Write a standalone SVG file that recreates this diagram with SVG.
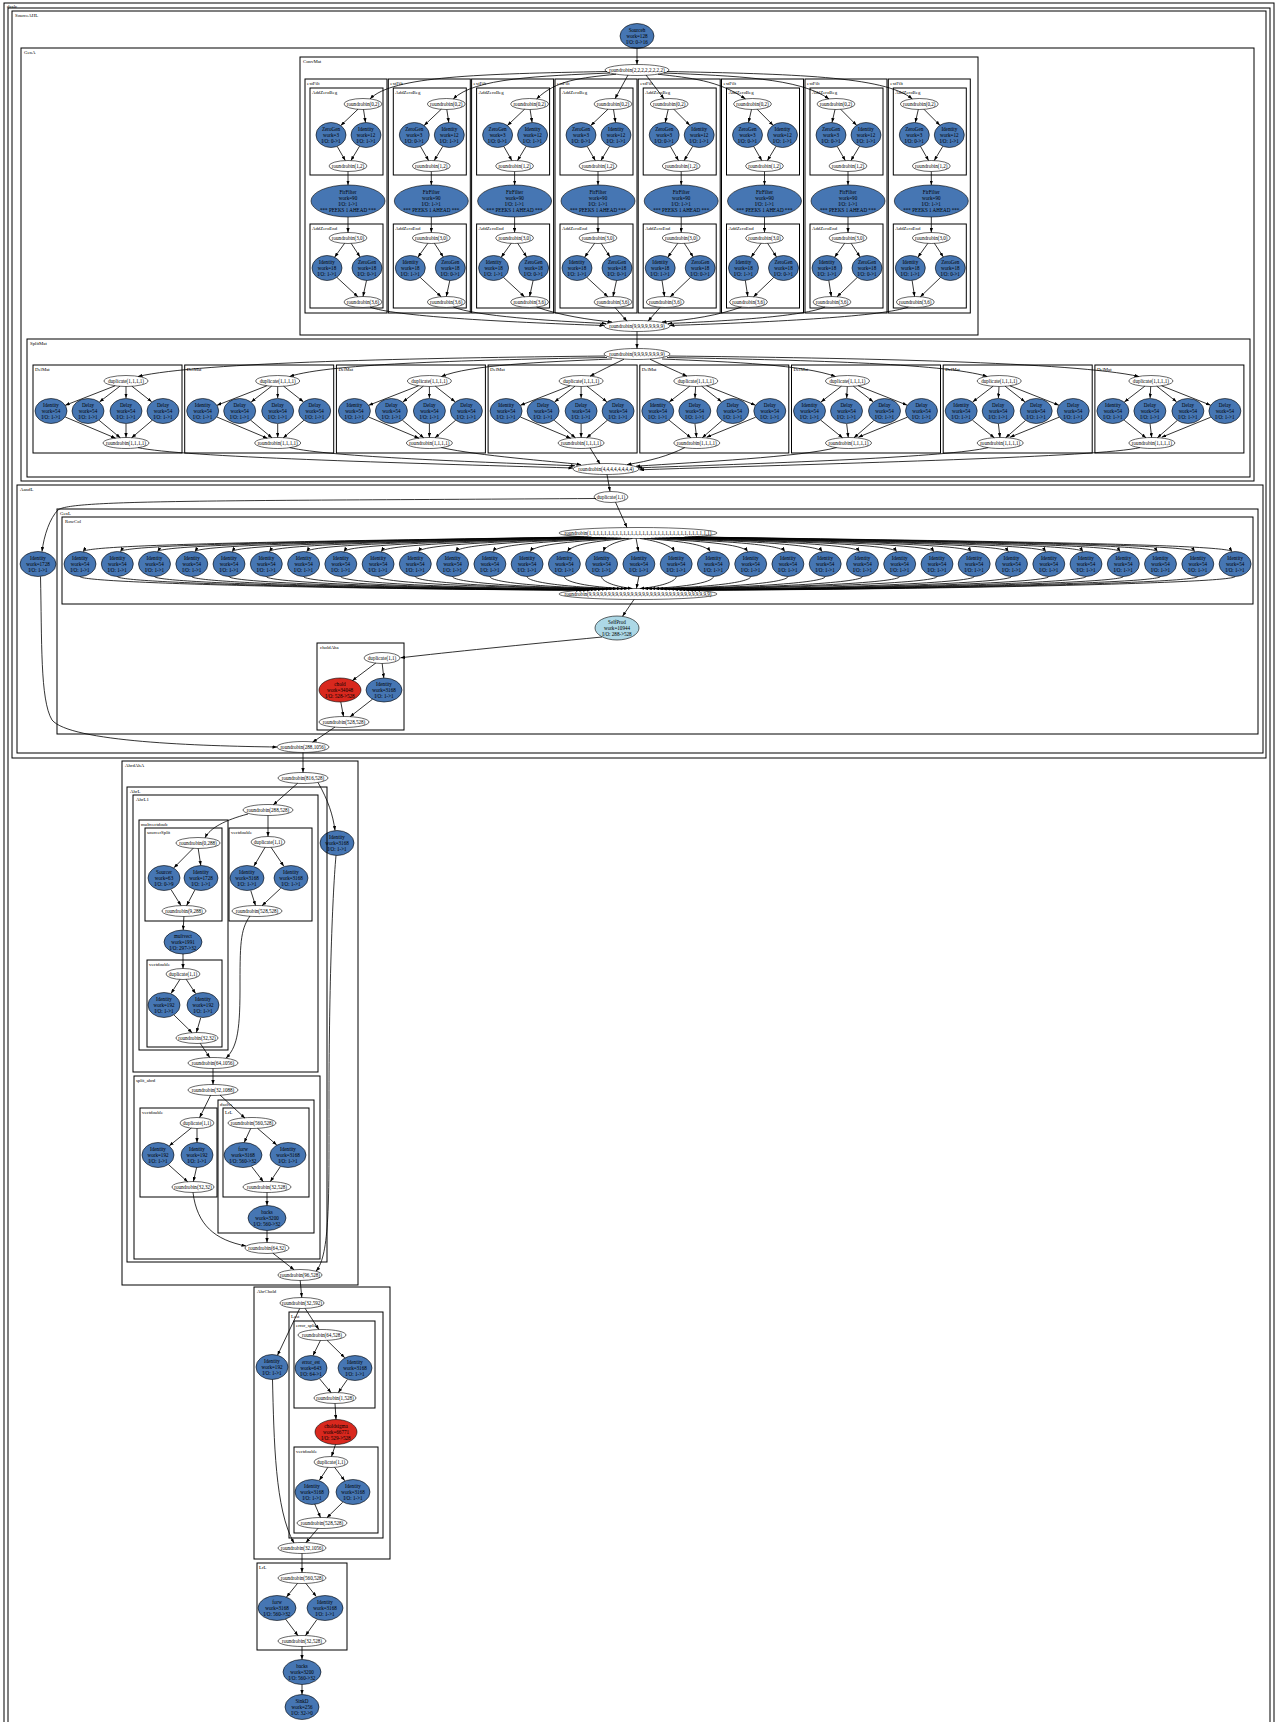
<svg xmlns="http://www.w3.org/2000/svg" width="1275" height="1722" viewBox="0 0 1275 1722">
<style>
.c{fill:none;stroke:#000;stroke-width:1}
.l{font-family:"Liberation Serif",serif;font-size:4.8px;fill:#000}
.t{font-family:"Liberation Serif",serif;font-size:5.1px;fill:#000;text-anchor:middle}
.b{fill:#4676b3;stroke:#000;stroke-width:0.6}
.w{fill:#fff;stroke:#000;stroke-width:0.6}
.r{fill:#d9281e;stroke:#000;stroke-width:0.6}
.p{fill:#add8e6;stroke:#000;stroke-width:0.6}
#E path{fill:none;stroke:#000;stroke-width:0.8;marker-end:url(#a)}
</style>
<defs>
<marker id="a" viewBox="0 0 8 6" refX="8" refY="3" markerWidth="4.5" markerHeight="3.4" orient="auto" markerUnits="userSpaceOnUse"><path d="M0,0L8,3L0,6z" fill="#000"/></marker>
</defs>
<rect width="1275" height="1722" fill="#fff"/>
<g id="dcalc"><rect class="c" x="4" y="3" width="1270" height="1730"/><text class="l" x="7" y="7.5">dcalc</text>
<rect class="c" x="8" y="8" width="1262" height="1720"/>
<g id="SourceAHL"><rect class="c" x="12" y="11" width="1254" height="747"/><text class="l" x="15" y="17">SourceAHL</text>
<g id="sourceh"><ellipse class="b" cx="637" cy="36" rx="17" ry="12.5"/><text class="t" x="637" y="31.6">Sourceh<tspan x="637" dy="6.2">work=128</tspan><tspan x="637" dy="6.2">I/O: 0-&gt;16</tspan></text></g>
<g id="GenA"><rect class="c" x="21" y="48" width="1233" height="433"/><text class="l" x="24" y="54">GenA</text>
<g id="ConvMat"><rect class="c" x="300" y="57" width="678" height="278"/><text class="l" x="303" y="63">ConvMat</text>
<g id="cm_split"><ellipse class="w" cx="637" cy="70" rx="32" ry="5.5"/><text class="t" x="637" y="71.8">roundrobin(2,2,2,2,2,2,2,2)</text></g>
<g id="cm_join"><ellipse class="w" cx="637" cy="326" rx="33" ry="5.5"/><text class="t" x="637" y="327.8">roundrobin(9,9,9,9,9,9,9,9)</text></g>
<g id="ef0" transform="translate(305,0)"><rect class="c" x="0" y="79" width="82" height="234"/><text class="l" x="2" y="85">extFilt</text><rect class="c" x="5" y="88" width="73" height="87"/><text class="l" x="7" y="94">AddZeroBeg</text><rect class="c" x="5" y="224" width="73" height="84"/><text class="l" x="7" y="230">AddZeroEnd</text>
<g id="ef0_rrA"><ellipse class="w" cx="58" cy="104" rx="19" ry="5.5"/><text class="t" x="58" y="105.8">roundrobin(0,2)</text></g>
<g id="ef0_zg3"><ellipse class="b" cx="26" cy="135" rx="15" ry="12.5"/><text class="t" x="26" y="130.6">ZeroGen<tspan x="26" dy="6.2">work=3</tspan><tspan x="26" dy="6.2">I/O: 0-&gt;1</tspan></text></g>
<g id="ef0_id12"><ellipse class="b" cx="61" cy="135" rx="15" ry="12.5"/><text class="t" x="61" y="130.6">Identity<tspan x="61" dy="6.2">work=12</tspan><tspan x="61" dy="6.2">I/O: 1-&gt;1</tspan></text></g>
<g id="ef0_rrB"><ellipse class="w" cx="43" cy="166" rx="19" ry="5.5"/><text class="t" x="43" y="167.8">roundrobin(1,2)</text></g>
<g id="ef0_fir"><ellipse class="b" cx="43" cy="201" rx="37" ry="16"/><text class="t" x="43" y="193.5">FirFilter<tspan x="43" dy="6.2">work=90</tspan><tspan x="43" dy="6.2">I/O: 1-&gt;1</tspan><tspan x="43" dy="6.2">*** PEEKS 1 AHEAD ***</tspan></text></g>
<g id="ef0_rrC"><ellipse class="w" cx="43" cy="238" rx="19" ry="5.5"/><text class="t" x="43" y="239.8">roundrobin(3,0)</text></g>
<g id="ef0_id18"><ellipse class="b" cx="22" cy="268" rx="15" ry="12.5"/><text class="t" x="22" y="263.6">Identity<tspan x="22" dy="6.2">work=18</tspan><tspan x="22" dy="6.2">I/O: 1-&gt;1</tspan></text></g>
<g id="ef0_zg18"><ellipse class="b" cx="62" cy="268" rx="15" ry="12.5"/><text class="t" x="62" y="263.6">ZeroGen<tspan x="62" dy="6.2">work=18</tspan><tspan x="62" dy="6.2">I/O: 0-&gt;1</tspan></text></g>
<g id="ef0_rrD"><ellipse class="w" cx="58" cy="302" rx="19" ry="5.5"/><text class="t" x="58" y="303.8">roundrobin(3,6)</text></g>
</g>
<g id="ef1" transform="translate(388.3,0)"><rect class="c" x="0" y="79" width="82" height="234"/><text class="l" x="2" y="85">extFilt</text><rect class="c" x="5" y="88" width="73" height="87"/><text class="l" x="7" y="94">AddZeroBeg</text><rect class="c" x="5" y="224" width="73" height="84"/><text class="l" x="7" y="230">AddZeroEnd</text>
<g id="ef1_rrA"><ellipse class="w" cx="58" cy="104" rx="19" ry="5.5"/><text class="t" x="58" y="105.8">roundrobin(0,2)</text></g>
<g id="ef1_zg3"><ellipse class="b" cx="26" cy="135" rx="15" ry="12.5"/><text class="t" x="26" y="130.6">ZeroGen<tspan x="26" dy="6.2">work=3</tspan><tspan x="26" dy="6.2">I/O: 0-&gt;1</tspan></text></g>
<g id="ef1_id12"><ellipse class="b" cx="61" cy="135" rx="15" ry="12.5"/><text class="t" x="61" y="130.6">Identity<tspan x="61" dy="6.2">work=12</tspan><tspan x="61" dy="6.2">I/O: 1-&gt;1</tspan></text></g>
<g id="ef1_rrB"><ellipse class="w" cx="43" cy="166" rx="19" ry="5.5"/><text class="t" x="43" y="167.8">roundrobin(1,2)</text></g>
<g id="ef1_fir"><ellipse class="b" cx="43" cy="201" rx="37" ry="16"/><text class="t" x="43" y="193.5">FirFilter<tspan x="43" dy="6.2">work=90</tspan><tspan x="43" dy="6.2">I/O: 1-&gt;1</tspan><tspan x="43" dy="6.2">*** PEEKS 1 AHEAD ***</tspan></text></g>
<g id="ef1_rrC"><ellipse class="w" cx="43" cy="238" rx="19" ry="5.5"/><text class="t" x="43" y="239.8">roundrobin(3,0)</text></g>
<g id="ef1_id18"><ellipse class="b" cx="22" cy="268" rx="15" ry="12.5"/><text class="t" x="22" y="263.6">Identity<tspan x="22" dy="6.2">work=18</tspan><tspan x="22" dy="6.2">I/O: 1-&gt;1</tspan></text></g>
<g id="ef1_zg18"><ellipse class="b" cx="62" cy="268" rx="15" ry="12.5"/><text class="t" x="62" y="263.6">ZeroGen<tspan x="62" dy="6.2">work=18</tspan><tspan x="62" dy="6.2">I/O: 0-&gt;1</tspan></text></g>
<g id="ef1_rrD"><ellipse class="w" cx="58" cy="302" rx="19" ry="5.5"/><text class="t" x="58" y="303.8">roundrobin(3,6)</text></g>
</g>
<g id="ef2" transform="translate(471.6,0)"><rect class="c" x="0" y="79" width="82" height="234"/><text class="l" x="2" y="85">extFilt</text><rect class="c" x="5" y="88" width="73" height="87"/><text class="l" x="7" y="94">AddZeroBeg</text><rect class="c" x="5" y="224" width="73" height="84"/><text class="l" x="7" y="230">AddZeroEnd</text>
<g id="ef2_rrA"><ellipse class="w" cx="58" cy="104" rx="19" ry="5.5"/><text class="t" x="58" y="105.8">roundrobin(0,2)</text></g>
<g id="ef2_zg3"><ellipse class="b" cx="26" cy="135" rx="15" ry="12.5"/><text class="t" x="26" y="130.6">ZeroGen<tspan x="26" dy="6.2">work=3</tspan><tspan x="26" dy="6.2">I/O: 0-&gt;1</tspan></text></g>
<g id="ef2_id12"><ellipse class="b" cx="61" cy="135" rx="15" ry="12.5"/><text class="t" x="61" y="130.6">Identity<tspan x="61" dy="6.2">work=12</tspan><tspan x="61" dy="6.2">I/O: 1-&gt;1</tspan></text></g>
<g id="ef2_rrB"><ellipse class="w" cx="43" cy="166" rx="19" ry="5.5"/><text class="t" x="43" y="167.8">roundrobin(1,2)</text></g>
<g id="ef2_fir"><ellipse class="b" cx="43" cy="201" rx="37" ry="16"/><text class="t" x="43" y="193.5">FirFilter<tspan x="43" dy="6.2">work=90</tspan><tspan x="43" dy="6.2">I/O: 1-&gt;1</tspan><tspan x="43" dy="6.2">*** PEEKS 1 AHEAD ***</tspan></text></g>
<g id="ef2_rrC"><ellipse class="w" cx="43" cy="238" rx="19" ry="5.5"/><text class="t" x="43" y="239.8">roundrobin(3,0)</text></g>
<g id="ef2_id18"><ellipse class="b" cx="22" cy="268" rx="15" ry="12.5"/><text class="t" x="22" y="263.6">Identity<tspan x="22" dy="6.2">work=18</tspan><tspan x="22" dy="6.2">I/O: 1-&gt;1</tspan></text></g>
<g id="ef2_zg18"><ellipse class="b" cx="62" cy="268" rx="15" ry="12.5"/><text class="t" x="62" y="263.6">ZeroGen<tspan x="62" dy="6.2">work=18</tspan><tspan x="62" dy="6.2">I/O: 0-&gt;1</tspan></text></g>
<g id="ef2_rrD"><ellipse class="w" cx="58" cy="302" rx="19" ry="5.5"/><text class="t" x="58" y="303.8">roundrobin(3,6)</text></g>
</g>
<g id="ef3" transform="translate(555,0)"><rect class="c" x="0" y="79" width="82" height="234"/><text class="l" x="2" y="85">extFilt</text><rect class="c" x="5" y="88" width="73" height="87"/><text class="l" x="7" y="94">AddZeroBeg</text><rect class="c" x="5" y="224" width="73" height="84"/><text class="l" x="7" y="230">AddZeroEnd</text>
<g id="ef3_rrA"><ellipse class="w" cx="58" cy="104" rx="19" ry="5.5"/><text class="t" x="58" y="105.8">roundrobin(0,2)</text></g>
<g id="ef3_zg3"><ellipse class="b" cx="26" cy="135" rx="15" ry="12.5"/><text class="t" x="26" y="130.6">ZeroGen<tspan x="26" dy="6.2">work=3</tspan><tspan x="26" dy="6.2">I/O: 0-&gt;1</tspan></text></g>
<g id="ef3_id12"><ellipse class="b" cx="61" cy="135" rx="15" ry="12.5"/><text class="t" x="61" y="130.6">Identity<tspan x="61" dy="6.2">work=12</tspan><tspan x="61" dy="6.2">I/O: 1-&gt;1</tspan></text></g>
<g id="ef3_rrB"><ellipse class="w" cx="43" cy="166" rx="19" ry="5.5"/><text class="t" x="43" y="167.8">roundrobin(1,2)</text></g>
<g id="ef3_fir"><ellipse class="b" cx="43" cy="201" rx="37" ry="16"/><text class="t" x="43" y="193.5">FirFilter<tspan x="43" dy="6.2">work=90</tspan><tspan x="43" dy="6.2">I/O: 1-&gt;1</tspan><tspan x="43" dy="6.2">*** PEEKS 1 AHEAD ***</tspan></text></g>
<g id="ef3_rrC"><ellipse class="w" cx="43" cy="238" rx="19" ry="5.5"/><text class="t" x="43" y="239.8">roundrobin(3,0)</text></g>
<g id="ef3_id18"><ellipse class="b" cx="22" cy="268" rx="15" ry="12.5"/><text class="t" x="22" y="263.6">Identity<tspan x="22" dy="6.2">work=18</tspan><tspan x="22" dy="6.2">I/O: 1-&gt;1</tspan></text></g>
<g id="ef3_zg18"><ellipse class="b" cx="62" cy="268" rx="15" ry="12.5"/><text class="t" x="62" y="263.6">ZeroGen<tspan x="62" dy="6.2">work=18</tspan><tspan x="62" dy="6.2">I/O: 0-&gt;1</tspan></text></g>
<g id="ef3_rrD"><ellipse class="w" cx="58" cy="302" rx="19" ry="5.5"/><text class="t" x="58" y="303.8">roundrobin(3,6)</text></g>
</g>
<g id="ef4" transform="translate(638.2,0)"><rect class="c" x="0" y="79" width="82" height="234"/><text class="l" x="2" y="85">extFilt</text><rect class="c" x="5" y="88" width="73" height="87"/><text class="l" x="7" y="94">AddZeroBeg</text><rect class="c" x="5" y="224" width="73" height="84"/><text class="l" x="7" y="230">AddZeroEnd</text>
<g id="ef4_rrA"><ellipse class="w" cx="31" cy="104" rx="19" ry="5.5"/><text class="t" x="31" y="105.8">roundrobin(0,2)</text></g>
<g id="ef4_zg3"><ellipse class="b" cx="26" cy="135" rx="15" ry="12.5"/><text class="t" x="26" y="130.6">ZeroGen<tspan x="26" dy="6.2">work=3</tspan><tspan x="26" dy="6.2">I/O: 0-&gt;1</tspan></text></g>
<g id="ef4_id12"><ellipse class="b" cx="61" cy="135" rx="15" ry="12.5"/><text class="t" x="61" y="130.6">Identity<tspan x="61" dy="6.2">work=12</tspan><tspan x="61" dy="6.2">I/O: 1-&gt;1</tspan></text></g>
<g id="ef4_rrB"><ellipse class="w" cx="43" cy="166" rx="19" ry="5.5"/><text class="t" x="43" y="167.8">roundrobin(1,2)</text></g>
<g id="ef4_fir"><ellipse class="b" cx="43" cy="201" rx="37" ry="16"/><text class="t" x="43" y="193.5">FirFilter<tspan x="43" dy="6.2">work=90</tspan><tspan x="43" dy="6.2">I/O: 1-&gt;1</tspan><tspan x="43" dy="6.2">*** PEEKS 1 AHEAD ***</tspan></text></g>
<g id="ef4_rrC"><ellipse class="w" cx="43" cy="238" rx="19" ry="5.5"/><text class="t" x="43" y="239.8">roundrobin(3,0)</text></g>
<g id="ef4_id18"><ellipse class="b" cx="22" cy="268" rx="15" ry="12.5"/><text class="t" x="22" y="263.6">Identity<tspan x="22" dy="6.2">work=18</tspan><tspan x="22" dy="6.2">I/O: 1-&gt;1</tspan></text></g>
<g id="ef4_zg18"><ellipse class="b" cx="62" cy="268" rx="15" ry="12.5"/><text class="t" x="62" y="263.6">ZeroGen<tspan x="62" dy="6.2">work=18</tspan><tspan x="62" dy="6.2">I/O: 0-&gt;1</tspan></text></g>
<g id="ef4_rrD"><ellipse class="w" cx="27" cy="302" rx="19" ry="5.5"/><text class="t" x="27" y="303.8">roundrobin(3,6)</text></g>
</g>
<g id="ef5" transform="translate(721.5,0)"><rect class="c" x="0" y="79" width="82" height="234"/><text class="l" x="2" y="85">extFilt</text><rect class="c" x="5" y="88" width="73" height="87"/><text class="l" x="7" y="94">AddZeroBeg</text><rect class="c" x="5" y="224" width="73" height="84"/><text class="l" x="7" y="230">AddZeroEnd</text>
<g id="ef5_rrA"><ellipse class="w" cx="31" cy="104" rx="19" ry="5.5"/><text class="t" x="31" y="105.8">roundrobin(0,2)</text></g>
<g id="ef5_zg3"><ellipse class="b" cx="26" cy="135" rx="15" ry="12.5"/><text class="t" x="26" y="130.6">ZeroGen<tspan x="26" dy="6.2">work=3</tspan><tspan x="26" dy="6.2">I/O: 0-&gt;1</tspan></text></g>
<g id="ef5_id12"><ellipse class="b" cx="61" cy="135" rx="15" ry="12.5"/><text class="t" x="61" y="130.6">Identity<tspan x="61" dy="6.2">work=12</tspan><tspan x="61" dy="6.2">I/O: 1-&gt;1</tspan></text></g>
<g id="ef5_rrB"><ellipse class="w" cx="43" cy="166" rx="19" ry="5.5"/><text class="t" x="43" y="167.8">roundrobin(1,2)</text></g>
<g id="ef5_fir"><ellipse class="b" cx="43" cy="201" rx="37" ry="16"/><text class="t" x="43" y="193.5">FirFilter<tspan x="43" dy="6.2">work=90</tspan><tspan x="43" dy="6.2">I/O: 1-&gt;1</tspan><tspan x="43" dy="6.2">*** PEEKS 1 AHEAD ***</tspan></text></g>
<g id="ef5_rrC"><ellipse class="w" cx="43" cy="238" rx="19" ry="5.5"/><text class="t" x="43" y="239.8">roundrobin(3,0)</text></g>
<g id="ef5_id18"><ellipse class="b" cx="22" cy="268" rx="15" ry="12.5"/><text class="t" x="22" y="263.6">Identity<tspan x="22" dy="6.2">work=18</tspan><tspan x="22" dy="6.2">I/O: 1-&gt;1</tspan></text></g>
<g id="ef5_zg18"><ellipse class="b" cx="62" cy="268" rx="15" ry="12.5"/><text class="t" x="62" y="263.6">ZeroGen<tspan x="62" dy="6.2">work=18</tspan><tspan x="62" dy="6.2">I/O: 0-&gt;1</tspan></text></g>
<g id="ef5_rrD"><ellipse class="w" cx="27" cy="302" rx="19" ry="5.5"/><text class="t" x="27" y="303.8">roundrobin(3,6)</text></g>
</g>
<g id="ef6" transform="translate(805,0)"><rect class="c" x="0" y="79" width="82" height="234"/><text class="l" x="2" y="85">extFilt</text><rect class="c" x="5" y="88" width="73" height="87"/><text class="l" x="7" y="94">AddZeroBeg</text><rect class="c" x="5" y="224" width="73" height="84"/><text class="l" x="7" y="230">AddZeroEnd</text>
<g id="ef6_rrA"><ellipse class="w" cx="31" cy="104" rx="19" ry="5.5"/><text class="t" x="31" y="105.8">roundrobin(0,2)</text></g>
<g id="ef6_zg3"><ellipse class="b" cx="26" cy="135" rx="15" ry="12.5"/><text class="t" x="26" y="130.6">ZeroGen<tspan x="26" dy="6.2">work=3</tspan><tspan x="26" dy="6.2">I/O: 0-&gt;1</tspan></text></g>
<g id="ef6_id12"><ellipse class="b" cx="61" cy="135" rx="15" ry="12.5"/><text class="t" x="61" y="130.6">Identity<tspan x="61" dy="6.2">work=12</tspan><tspan x="61" dy="6.2">I/O: 1-&gt;1</tspan></text></g>
<g id="ef6_rrB"><ellipse class="w" cx="43" cy="166" rx="19" ry="5.5"/><text class="t" x="43" y="167.8">roundrobin(1,2)</text></g>
<g id="ef6_fir"><ellipse class="b" cx="43" cy="201" rx="37" ry="16"/><text class="t" x="43" y="193.5">FirFilter<tspan x="43" dy="6.2">work=90</tspan><tspan x="43" dy="6.2">I/O: 1-&gt;1</tspan><tspan x="43" dy="6.2">*** PEEKS 1 AHEAD ***</tspan></text></g>
<g id="ef6_rrC"><ellipse class="w" cx="43" cy="238" rx="19" ry="5.5"/><text class="t" x="43" y="239.8">roundrobin(3,0)</text></g>
<g id="ef6_id18"><ellipse class="b" cx="22" cy="268" rx="15" ry="12.5"/><text class="t" x="22" y="263.6">Identity<tspan x="22" dy="6.2">work=18</tspan><tspan x="22" dy="6.2">I/O: 1-&gt;1</tspan></text></g>
<g id="ef6_zg18"><ellipse class="b" cx="62" cy="268" rx="15" ry="12.5"/><text class="t" x="62" y="263.6">ZeroGen<tspan x="62" dy="6.2">work=18</tspan><tspan x="62" dy="6.2">I/O: 0-&gt;1</tspan></text></g>
<g id="ef6_rrD"><ellipse class="w" cx="27" cy="302" rx="19" ry="5.5"/><text class="t" x="27" y="303.8">roundrobin(3,6)</text></g>
</g>
<g id="ef7" transform="translate(888.3,0)"><rect class="c" x="0" y="79" width="82" height="234"/><text class="l" x="2" y="85">extFilt</text><rect class="c" x="5" y="88" width="73" height="87"/><text class="l" x="7" y="94">AddZeroBeg</text><rect class="c" x="5" y="224" width="73" height="84"/><text class="l" x="7" y="230">AddZeroEnd</text>
<g id="ef7_rrA"><ellipse class="w" cx="31" cy="104" rx="19" ry="5.5"/><text class="t" x="31" y="105.8">roundrobin(0,2)</text></g>
<g id="ef7_zg3"><ellipse class="b" cx="26" cy="135" rx="15" ry="12.5"/><text class="t" x="26" y="130.6">ZeroGen<tspan x="26" dy="6.2">work=3</tspan><tspan x="26" dy="6.2">I/O: 0-&gt;1</tspan></text></g>
<g id="ef7_id12"><ellipse class="b" cx="61" cy="135" rx="15" ry="12.5"/><text class="t" x="61" y="130.6">Identity<tspan x="61" dy="6.2">work=12</tspan><tspan x="61" dy="6.2">I/O: 1-&gt;1</tspan></text></g>
<g id="ef7_rrB"><ellipse class="w" cx="43" cy="166" rx="19" ry="5.5"/><text class="t" x="43" y="167.8">roundrobin(1,2)</text></g>
<g id="ef7_fir"><ellipse class="b" cx="43" cy="201" rx="37" ry="16"/><text class="t" x="43" y="193.5">FirFilter<tspan x="43" dy="6.2">work=90</tspan><tspan x="43" dy="6.2">I/O: 1-&gt;1</tspan><tspan x="43" dy="6.2">*** PEEKS 1 AHEAD ***</tspan></text></g>
<g id="ef7_rrC"><ellipse class="w" cx="43" cy="238" rx="19" ry="5.5"/><text class="t" x="43" y="239.8">roundrobin(3,0)</text></g>
<g id="ef7_id18"><ellipse class="b" cx="22" cy="268" rx="15" ry="12.5"/><text class="t" x="22" y="263.6">Identity<tspan x="22" dy="6.2">work=18</tspan><tspan x="22" dy="6.2">I/O: 1-&gt;1</tspan></text></g>
<g id="ef7_zg18"><ellipse class="b" cx="62" cy="268" rx="15" ry="12.5"/><text class="t" x="62" y="263.6">ZeroGen<tspan x="62" dy="6.2">work=18</tspan><tspan x="62" dy="6.2">I/O: 0-&gt;1</tspan></text></g>
<g id="ef7_rrD"><ellipse class="w" cx="27" cy="302" rx="19" ry="5.5"/><text class="t" x="27" y="303.8">roundrobin(3,6)</text></g>
</g>
</g>
<g id="SplitMat"><rect class="c" x="27" y="339" width="1223" height="138"/><text class="l" x="30" y="345">SplitMat</text>
<g id="sm_split"><ellipse class="w" cx="637" cy="354" rx="33" ry="5.5"/><text class="t" x="637" y="355.8">roundrobin(9,9,9,9,9,9,9,9)</text></g>
<g id="sm_join"><ellipse class="w" cx="606" cy="469" rx="33" ry="5.5"/><text class="t" x="606" y="470.8">roundrobin(4,4,4,4,4,4,4,4)</text></g>
<g id="dm0" transform="translate(33,0)"><rect class="c" x="0" y="365" width="149" height="88"/><text class="l" x="2" y="371">DelMat</text>
<g id="dm0_dup"><ellipse class="w" cx="93" cy="381" rx="22" ry="5.5"/><text class="t" x="93" y="382.8">duplicate(1,1,1,1)</text></g>
<g id="dm0_id"><ellipse class="b" cx="18" cy="411" rx="16" ry="12.5"/><text class="t" x="18" y="406.6">Identity<tspan x="18" dy="6.2">work=54</tspan><tspan x="18" dy="6.2">I/O: 1-&gt;1</tspan></text></g>
<g id="dm0_d1"><ellipse class="b" cx="55" cy="411" rx="16" ry="12.5"/><text class="t" x="55" y="406.6">Delay<tspan x="55" dy="6.2">work=54</tspan><tspan x="55" dy="6.2">I/O: 1-&gt;1</tspan></text></g>
<g id="dm0_d2"><ellipse class="b" cx="93" cy="411" rx="16" ry="12.5"/><text class="t" x="93" y="406.6">Delay<tspan x="93" dy="6.2">work=54</tspan><tspan x="93" dy="6.2">I/O: 1-&gt;1</tspan></text></g>
<g id="dm0_d3"><ellipse class="b" cx="130" cy="411" rx="16" ry="12.5"/><text class="t" x="130" y="406.6">Delay<tspan x="130" dy="6.2">work=54</tspan><tspan x="130" dy="6.2">I/O: 1-&gt;1</tspan></text></g>
<g id="dm0_rr"><ellipse class="w" cx="93" cy="443" rx="23" ry="5.5"/><text class="t" x="93" y="444.8">roundrobin(1,1,1,1)</text></g>
</g>
<g id="dm1" transform="translate(184.7,0)"><rect class="c" x="0" y="365" width="149" height="88"/><text class="l" x="2" y="371">DelMat</text>
<g id="dm1_dup"><ellipse class="w" cx="93" cy="381" rx="22" ry="5.5"/><text class="t" x="93" y="382.8">duplicate(1,1,1,1)</text></g>
<g id="dm1_id"><ellipse class="b" cx="18" cy="411" rx="16" ry="12.5"/><text class="t" x="18" y="406.6">Identity<tspan x="18" dy="6.2">work=54</tspan><tspan x="18" dy="6.2">I/O: 1-&gt;1</tspan></text></g>
<g id="dm1_d1"><ellipse class="b" cx="55" cy="411" rx="16" ry="12.5"/><text class="t" x="55" y="406.6">Delay<tspan x="55" dy="6.2">work=54</tspan><tspan x="55" dy="6.2">I/O: 1-&gt;1</tspan></text></g>
<g id="dm1_d2"><ellipse class="b" cx="93" cy="411" rx="16" ry="12.5"/><text class="t" x="93" y="406.6">Delay<tspan x="93" dy="6.2">work=54</tspan><tspan x="93" dy="6.2">I/O: 1-&gt;1</tspan></text></g>
<g id="dm1_d3"><ellipse class="b" cx="130" cy="411" rx="16" ry="12.5"/><text class="t" x="130" y="406.6">Delay<tspan x="130" dy="6.2">work=54</tspan><tspan x="130" dy="6.2">I/O: 1-&gt;1</tspan></text></g>
<g id="dm1_rr"><ellipse class="w" cx="93" cy="443" rx="23" ry="5.5"/><text class="t" x="93" y="444.8">roundrobin(1,1,1,1)</text></g>
</g>
<g id="dm2" transform="translate(336.4,0)"><rect class="c" x="0" y="365" width="149" height="88"/><text class="l" x="2" y="371">DelMat</text>
<g id="dm2_dup"><ellipse class="w" cx="93" cy="381" rx="22" ry="5.5"/><text class="t" x="93" y="382.8">duplicate(1,1,1,1)</text></g>
<g id="dm2_id"><ellipse class="b" cx="18" cy="411" rx="16" ry="12.5"/><text class="t" x="18" y="406.6">Identity<tspan x="18" dy="6.2">work=54</tspan><tspan x="18" dy="6.2">I/O: 1-&gt;1</tspan></text></g>
<g id="dm2_d1"><ellipse class="b" cx="55" cy="411" rx="16" ry="12.5"/><text class="t" x="55" y="406.6">Delay<tspan x="55" dy="6.2">work=54</tspan><tspan x="55" dy="6.2">I/O: 1-&gt;1</tspan></text></g>
<g id="dm2_d2"><ellipse class="b" cx="93" cy="411" rx="16" ry="12.5"/><text class="t" x="93" y="406.6">Delay<tspan x="93" dy="6.2">work=54</tspan><tspan x="93" dy="6.2">I/O: 1-&gt;1</tspan></text></g>
<g id="dm2_d3"><ellipse class="b" cx="130" cy="411" rx="16" ry="12.5"/><text class="t" x="130" y="406.6">Delay<tspan x="130" dy="6.2">work=54</tspan><tspan x="130" dy="6.2">I/O: 1-&gt;1</tspan></text></g>
<g id="dm2_rr"><ellipse class="w" cx="93" cy="443" rx="23" ry="5.5"/><text class="t" x="93" y="444.8">roundrobin(1,1,1,1)</text></g>
</g>
<g id="dm3" transform="translate(488.1,0)"><rect class="c" x="0" y="365" width="149" height="88"/><text class="l" x="2" y="371">DelMat</text>
<g id="dm3_dup"><ellipse class="w" cx="93" cy="381" rx="22" ry="5.5"/><text class="t" x="93" y="382.8">duplicate(1,1,1,1)</text></g>
<g id="dm3_id"><ellipse class="b" cx="18" cy="411" rx="16" ry="12.5"/><text class="t" x="18" y="406.6">Identity<tspan x="18" dy="6.2">work=54</tspan><tspan x="18" dy="6.2">I/O: 1-&gt;1</tspan></text></g>
<g id="dm3_d1"><ellipse class="b" cx="55" cy="411" rx="16" ry="12.5"/><text class="t" x="55" y="406.6">Delay<tspan x="55" dy="6.2">work=54</tspan><tspan x="55" dy="6.2">I/O: 1-&gt;1</tspan></text></g>
<g id="dm3_d2"><ellipse class="b" cx="93" cy="411" rx="16" ry="12.5"/><text class="t" x="93" y="406.6">Delay<tspan x="93" dy="6.2">work=54</tspan><tspan x="93" dy="6.2">I/O: 1-&gt;1</tspan></text></g>
<g id="dm3_d3"><ellipse class="b" cx="130" cy="411" rx="16" ry="12.5"/><text class="t" x="130" y="406.6">Delay<tspan x="130" dy="6.2">work=54</tspan><tspan x="130" dy="6.2">I/O: 1-&gt;1</tspan></text></g>
<g id="dm3_rr"><ellipse class="w" cx="93" cy="443" rx="23" ry="5.5"/><text class="t" x="93" y="444.8">roundrobin(1,1,1,1)</text></g>
</g>
<g id="dm4" transform="translate(639.8,0)"><rect class="c" x="0" y="365" width="149" height="88"/><text class="l" x="2" y="371">DelMat</text>
<g id="dm4_dup"><ellipse class="w" cx="56" cy="381" rx="22" ry="5.5"/><text class="t" x="56" y="382.8">duplicate(1,1,1,1)</text></g>
<g id="dm4_id"><ellipse class="b" cx="18" cy="411" rx="16" ry="12.5"/><text class="t" x="18" y="406.6">Identity<tspan x="18" dy="6.2">work=54</tspan><tspan x="18" dy="6.2">I/O: 1-&gt;1</tspan></text></g>
<g id="dm4_d1"><ellipse class="b" cx="55" cy="411" rx="16" ry="12.5"/><text class="t" x="55" y="406.6">Delay<tspan x="55" dy="6.2">work=54</tspan><tspan x="55" dy="6.2">I/O: 1-&gt;1</tspan></text></g>
<g id="dm4_d2"><ellipse class="b" cx="93" cy="411" rx="16" ry="12.5"/><text class="t" x="93" y="406.6">Delay<tspan x="93" dy="6.2">work=54</tspan><tspan x="93" dy="6.2">I/O: 1-&gt;1</tspan></text></g>
<g id="dm4_d3"><ellipse class="b" cx="130" cy="411" rx="16" ry="12.5"/><text class="t" x="130" y="406.6">Delay<tspan x="130" dy="6.2">work=54</tspan><tspan x="130" dy="6.2">I/O: 1-&gt;1</tspan></text></g>
<g id="dm4_rr"><ellipse class="w" cx="57" cy="443" rx="23" ry="5.5"/><text class="t" x="57" y="444.8">roundrobin(1,1,1,1)</text></g>
</g>
<g id="dm5" transform="translate(791.5,0)"><rect class="c" x="0" y="365" width="149" height="88"/><text class="l" x="2" y="371">DelMat</text>
<g id="dm5_dup"><ellipse class="w" cx="56" cy="381" rx="22" ry="5.5"/><text class="t" x="56" y="382.8">duplicate(1,1,1,1)</text></g>
<g id="dm5_id"><ellipse class="b" cx="18" cy="411" rx="16" ry="12.5"/><text class="t" x="18" y="406.6">Identity<tspan x="18" dy="6.2">work=54</tspan><tspan x="18" dy="6.2">I/O: 1-&gt;1</tspan></text></g>
<g id="dm5_d1"><ellipse class="b" cx="55" cy="411" rx="16" ry="12.5"/><text class="t" x="55" y="406.6">Delay<tspan x="55" dy="6.2">work=54</tspan><tspan x="55" dy="6.2">I/O: 1-&gt;1</tspan></text></g>
<g id="dm5_d2"><ellipse class="b" cx="93" cy="411" rx="16" ry="12.5"/><text class="t" x="93" y="406.6">Delay<tspan x="93" dy="6.2">work=54</tspan><tspan x="93" dy="6.2">I/O: 1-&gt;1</tspan></text></g>
<g id="dm5_d3"><ellipse class="b" cx="130" cy="411" rx="16" ry="12.5"/><text class="t" x="130" y="406.6">Delay<tspan x="130" dy="6.2">work=54</tspan><tspan x="130" dy="6.2">I/O: 1-&gt;1</tspan></text></g>
<g id="dm5_rr"><ellipse class="w" cx="57" cy="443" rx="23" ry="5.5"/><text class="t" x="57" y="444.8">roundrobin(1,1,1,1)</text></g>
</g>
<g id="dm6" transform="translate(943.2,0)"><rect class="c" x="0" y="365" width="149" height="88"/><text class="l" x="2" y="371">DelMat</text>
<g id="dm6_dup"><ellipse class="w" cx="56" cy="381" rx="22" ry="5.5"/><text class="t" x="56" y="382.8">duplicate(1,1,1,1)</text></g>
<g id="dm6_id"><ellipse class="b" cx="18" cy="411" rx="16" ry="12.5"/><text class="t" x="18" y="406.6">Identity<tspan x="18" dy="6.2">work=54</tspan><tspan x="18" dy="6.2">I/O: 1-&gt;1</tspan></text></g>
<g id="dm6_d1"><ellipse class="b" cx="55" cy="411" rx="16" ry="12.5"/><text class="t" x="55" y="406.6">Delay<tspan x="55" dy="6.2">work=54</tspan><tspan x="55" dy="6.2">I/O: 1-&gt;1</tspan></text></g>
<g id="dm6_d2"><ellipse class="b" cx="93" cy="411" rx="16" ry="12.5"/><text class="t" x="93" y="406.6">Delay<tspan x="93" dy="6.2">work=54</tspan><tspan x="93" dy="6.2">I/O: 1-&gt;1</tspan></text></g>
<g id="dm6_d3"><ellipse class="b" cx="130" cy="411" rx="16" ry="12.5"/><text class="t" x="130" y="406.6">Delay<tspan x="130" dy="6.2">work=54</tspan><tspan x="130" dy="6.2">I/O: 1-&gt;1</tspan></text></g>
<g id="dm6_rr"><ellipse class="w" cx="57" cy="443" rx="23" ry="5.5"/><text class="t" x="57" y="444.8">roundrobin(1,1,1,1)</text></g>
</g>
<g id="dm7" transform="translate(1094.9,0)"><rect class="c" x="0" y="365" width="149" height="88"/><text class="l" x="2" y="371">DelMat</text>
<g id="dm7_dup"><ellipse class="w" cx="56" cy="381" rx="22" ry="5.5"/><text class="t" x="56" y="382.8">duplicate(1,1,1,1)</text></g>
<g id="dm7_id"><ellipse class="b" cx="18" cy="411" rx="16" ry="12.5"/><text class="t" x="18" y="406.6">Identity<tspan x="18" dy="6.2">work=54</tspan><tspan x="18" dy="6.2">I/O: 1-&gt;1</tspan></text></g>
<g id="dm7_d1"><ellipse class="b" cx="55" cy="411" rx="16" ry="12.5"/><text class="t" x="55" y="406.6">Delay<tspan x="55" dy="6.2">work=54</tspan><tspan x="55" dy="6.2">I/O: 1-&gt;1</tspan></text></g>
<g id="dm7_d2"><ellipse class="b" cx="93" cy="411" rx="16" ry="12.5"/><text class="t" x="93" y="406.6">Delay<tspan x="93" dy="6.2">work=54</tspan><tspan x="93" dy="6.2">I/O: 1-&gt;1</tspan></text></g>
<g id="dm7_d3"><ellipse class="b" cx="130" cy="411" rx="16" ry="12.5"/><text class="t" x="130" y="406.6">Delay<tspan x="130" dy="6.2">work=54</tspan><tspan x="130" dy="6.2">I/O: 1-&gt;1</tspan></text></g>
<g id="dm7_rr"><ellipse class="w" cx="57" cy="443" rx="23" ry="5.5"/><text class="t" x="57" y="444.8">roundrobin(1,1,1,1)</text></g>
</g>
</g>
</g>
<g id="AandL"><rect class="c" x="17" y="485" width="1246" height="268"/><text class="l" x="20" y="491">AandL</text>
<g id="al_dup"><ellipse class="w" cx="611" cy="497" rx="17" ry="5.5"/><text class="t" x="611" y="498.8">duplicate(1,1)</text></g>
<g id="al_id1728"><ellipse class="b" cx="38" cy="564" rx="18" ry="12.5"/><text class="t" x="38" y="559.6">Identity<tspan x="38" dy="6.2">work=1728</tspan><tspan x="38" dy="6.2">I/O: 1-&gt;1</tspan></text></g>
<g id="al_join"><ellipse class="w" cx="303" cy="747" rx="26" ry="5.5"/><text class="t" x="303" y="748.8">roundrobin(288,1056)</text></g>
<g id="GenL"><rect class="c" x="57" y="509" width="1201" height="225"/><text class="l" x="60" y="515">GenL</text>
<g id="RowCol"><rect class="c" x="62" y="517" width="1191" height="87"/><text class="l" x="65" y="523">RowCol</text>
<g id="rc_split"><ellipse class="w" cx="638" cy="533" rx="79" ry="5.5"/><text class="t" x="638" y="534.8">roundrobin(1,1,1,1,1,1,1,1,1,1,1,1,1,1,1,1,1,1,1,1,1,1,1,1,1,1,1,1,1,1,1,1)</text></g>
<g id="rc_join"><ellipse class="w" cx="638" cy="594" rx="79" ry="5.5"/><text class="t" x="638" y="595.8">roundrobin(9,9,9,9,9,9,9,9,9,9,9,9,9,9,9,9,9,9,9,9,9,9,9,9,9,9,9,9,9,9,9,9)</text></g>
<g id="rc0"><ellipse class="b" cx="80" cy="564" rx="16" ry="12.5"/><text class="t" x="80" y="559.6">Identity<tspan x="80" dy="6.2">work=54</tspan><tspan x="80" dy="6.2">I/O: 1-&gt;1</tspan></text></g>
<g id="rc1"><ellipse class="b" cx="117.3" cy="564" rx="16" ry="12.5"/><text class="t" x="117.3" y="559.6">Identity<tspan x="117.3" dy="6.2">work=54</tspan><tspan x="117.3" dy="6.2">I/O: 1-&gt;1</tspan></text></g>
<g id="rc2"><ellipse class="b" cx="154.5" cy="564" rx="16" ry="12.5"/><text class="t" x="154.5" y="559.6">Identity<tspan x="154.5" dy="6.2">work=54</tspan><tspan x="154.5" dy="6.2">I/O: 1-&gt;1</tspan></text></g>
<g id="rc3"><ellipse class="b" cx="191.8" cy="564" rx="16" ry="12.5"/><text class="t" x="191.8" y="559.6">Identity<tspan x="191.8" dy="6.2">work=54</tspan><tspan x="191.8" dy="6.2">I/O: 1-&gt;1</tspan></text></g>
<g id="rc4"><ellipse class="b" cx="229" cy="564" rx="16" ry="12.5"/><text class="t" x="229" y="559.6">Identity<tspan x="229" dy="6.2">work=54</tspan><tspan x="229" dy="6.2">I/O: 1-&gt;1</tspan></text></g>
<g id="rc5"><ellipse class="b" cx="266.3" cy="564" rx="16" ry="12.5"/><text class="t" x="266.3" y="559.6">Identity<tspan x="266.3" dy="6.2">work=54</tspan><tspan x="266.3" dy="6.2">I/O: 1-&gt;1</tspan></text></g>
<g id="rc6"><ellipse class="b" cx="303.6" cy="564" rx="16" ry="12.5"/><text class="t" x="303.6" y="559.6">Identity<tspan x="303.6" dy="6.2">work=54</tspan><tspan x="303.6" dy="6.2">I/O: 1-&gt;1</tspan></text></g>
<g id="rc7"><ellipse class="b" cx="340.8" cy="564" rx="16" ry="12.5"/><text class="t" x="340.8" y="559.6">Identity<tspan x="340.8" dy="6.2">work=54</tspan><tspan x="340.8" dy="6.2">I/O: 1-&gt;1</tspan></text></g>
<g id="rc8"><ellipse class="b" cx="378.1" cy="564" rx="16" ry="12.5"/><text class="t" x="378.1" y="559.6">Identity<tspan x="378.1" dy="6.2">work=54</tspan><tspan x="378.1" dy="6.2">I/O: 1-&gt;1</tspan></text></g>
<g id="rc9"><ellipse class="b" cx="415.3" cy="564" rx="16" ry="12.5"/><text class="t" x="415.3" y="559.6">Identity<tspan x="415.3" dy="6.2">work=54</tspan><tspan x="415.3" dy="6.2">I/O: 1-&gt;1</tspan></text></g>
<g id="rc10"><ellipse class="b" cx="452.6" cy="564" rx="16" ry="12.5"/><text class="t" x="452.6" y="559.6">Identity<tspan x="452.6" dy="6.2">work=54</tspan><tspan x="452.6" dy="6.2">I/O: 1-&gt;1</tspan></text></g>
<g id="rc11"><ellipse class="b" cx="489.9" cy="564" rx="16" ry="12.5"/><text class="t" x="489.9" y="559.6">Identity<tspan x="489.9" dy="6.2">work=54</tspan><tspan x="489.9" dy="6.2">I/O: 1-&gt;1</tspan></text></g>
<g id="rc12"><ellipse class="b" cx="527.1" cy="564" rx="16" ry="12.5"/><text class="t" x="527.1" y="559.6">Identity<tspan x="527.1" dy="6.2">work=54</tspan><tspan x="527.1" dy="6.2">I/O: 1-&gt;1</tspan></text></g>
<g id="rc13"><ellipse class="b" cx="564.4" cy="564" rx="16" ry="12.5"/><text class="t" x="564.4" y="559.6">Identity<tspan x="564.4" dy="6.2">work=54</tspan><tspan x="564.4" dy="6.2">I/O: 1-&gt;1</tspan></text></g>
<g id="rc14"><ellipse class="b" cx="601.6" cy="564" rx="16" ry="12.5"/><text class="t" x="601.6" y="559.6">Identity<tspan x="601.6" dy="6.2">work=54</tspan><tspan x="601.6" dy="6.2">I/O: 1-&gt;1</tspan></text></g>
<g id="rc15"><ellipse class="b" cx="638.9" cy="564" rx="16" ry="12.5"/><text class="t" x="638.9" y="559.6">Identity<tspan x="638.9" dy="6.2">work=54</tspan><tspan x="638.9" dy="6.2">I/O: 1-&gt;1</tspan></text></g>
<g id="rc16"><ellipse class="b" cx="676.2" cy="564" rx="16" ry="12.5"/><text class="t" x="676.2" y="559.6">Identity<tspan x="676.2" dy="6.2">work=54</tspan><tspan x="676.2" dy="6.2">I/O: 1-&gt;1</tspan></text></g>
<g id="rc17"><ellipse class="b" cx="713.4" cy="564" rx="16" ry="12.5"/><text class="t" x="713.4" y="559.6">Identity<tspan x="713.4" dy="6.2">work=54</tspan><tspan x="713.4" dy="6.2">I/O: 1-&gt;1</tspan></text></g>
<g id="rc18"><ellipse class="b" cx="750.7" cy="564" rx="16" ry="12.5"/><text class="t" x="750.7" y="559.6">Identity<tspan x="750.7" dy="6.2">work=54</tspan><tspan x="750.7" dy="6.2">I/O: 1-&gt;1</tspan></text></g>
<g id="rc19"><ellipse class="b" cx="787.9" cy="564" rx="16" ry="12.5"/><text class="t" x="787.9" y="559.6">Identity<tspan x="787.9" dy="6.2">work=54</tspan><tspan x="787.9" dy="6.2">I/O: 1-&gt;1</tspan></text></g>
<g id="rc20"><ellipse class="b" cx="825.2" cy="564" rx="16" ry="12.5"/><text class="t" x="825.2" y="559.6">Identity<tspan x="825.2" dy="6.2">work=54</tspan><tspan x="825.2" dy="6.2">I/O: 1-&gt;1</tspan></text></g>
<g id="rc21"><ellipse class="b" cx="862.5" cy="564" rx="16" ry="12.5"/><text class="t" x="862.5" y="559.6">Identity<tspan x="862.5" dy="6.2">work=54</tspan><tspan x="862.5" dy="6.2">I/O: 1-&gt;1</tspan></text></g>
<g id="rc22"><ellipse class="b" cx="899.7" cy="564" rx="16" ry="12.5"/><text class="t" x="899.7" y="559.6">Identity<tspan x="899.7" dy="6.2">work=54</tspan><tspan x="899.7" dy="6.2">I/O: 1-&gt;1</tspan></text></g>
<g id="rc23"><ellipse class="b" cx="937" cy="564" rx="16" ry="12.5"/><text class="t" x="937" y="559.6">Identity<tspan x="937" dy="6.2">work=54</tspan><tspan x="937" dy="6.2">I/O: 1-&gt;1</tspan></text></g>
<g id="rc24"><ellipse class="b" cx="974.2" cy="564" rx="16" ry="12.5"/><text class="t" x="974.2" y="559.6">Identity<tspan x="974.2" dy="6.2">work=54</tspan><tspan x="974.2" dy="6.2">I/O: 1-&gt;1</tspan></text></g>
<g id="rc25"><ellipse class="b" cx="1011.5" cy="564" rx="16" ry="12.5"/><text class="t" x="1011.5" y="559.6">Identity<tspan x="1011.5" dy="6.2">work=54</tspan><tspan x="1011.5" dy="6.2">I/O: 1-&gt;1</tspan></text></g>
<g id="rc26"><ellipse class="b" cx="1048.8" cy="564" rx="16" ry="12.5"/><text class="t" x="1048.8" y="559.6">Identity<tspan x="1048.8" dy="6.2">work=54</tspan><tspan x="1048.8" dy="6.2">I/O: 1-&gt;1</tspan></text></g>
<g id="rc27"><ellipse class="b" cx="1086" cy="564" rx="16" ry="12.5"/><text class="t" x="1086" y="559.6">Identity<tspan x="1086" dy="6.2">work=54</tspan><tspan x="1086" dy="6.2">I/O: 1-&gt;1</tspan></text></g>
<g id="rc28"><ellipse class="b" cx="1123.3" cy="564" rx="16" ry="12.5"/><text class="t" x="1123.3" y="559.6">Identity<tspan x="1123.3" dy="6.2">work=54</tspan><tspan x="1123.3" dy="6.2">I/O: 1-&gt;1</tspan></text></g>
<g id="rc29"><ellipse class="b" cx="1160.5" cy="564" rx="16" ry="12.5"/><text class="t" x="1160.5" y="559.6">Identity<tspan x="1160.5" dy="6.2">work=54</tspan><tspan x="1160.5" dy="6.2">I/O: 1-&gt;1</tspan></text></g>
<g id="rc30"><ellipse class="b" cx="1197.8" cy="564" rx="16" ry="12.5"/><text class="t" x="1197.8" y="559.6">Identity<tspan x="1197.8" dy="6.2">work=54</tspan><tspan x="1197.8" dy="6.2">I/O: 1-&gt;1</tspan></text></g>
<g id="rc31"><ellipse class="b" cx="1235.1" cy="564" rx="16" ry="12.5"/><text class="t" x="1235.1" y="559.6">Identity<tspan x="1235.1" dy="6.2">work=54</tspan><tspan x="1235.1" dy="6.2">I/O: 1-&gt;1</tspan></text></g>
</g>
<g id="selfprod"><ellipse class="p" cx="617" cy="628" rx="22" ry="12"/><text class="t" x="617" y="623.6">SelfProd<tspan x="617" dy="6.2">work=10944</tspan><tspan x="617" dy="6.2">I/O: 288-&gt;528</tspan></text></g>
<g id="choldAha"><rect class="c" x="317" y="643" width="87" height="87"/><text class="l" x="320" y="649">choldAha</text>
<g id="ca_dup"><ellipse class="w" cx="382" cy="658" rx="18" ry="5.5"/><text class="t" x="382" y="659.8">duplicate(1,1)</text></g>
<g id="chold"><ellipse class="r" cx="340" cy="690" rx="21" ry="12"/><text class="t" x="340" y="685.6">chold<tspan x="340" dy="6.2">work=34048</tspan><tspan x="340" dy="6.2">I/O: 528-&gt;528</tspan></text></g>
<g id="ca_id"><ellipse class="b" cx="384" cy="690" rx="18" ry="12"/><text class="t" x="384" y="685.6">Identity<tspan x="384" dy="6.2">work=3168</tspan><tspan x="384" dy="6.2">I/O: 1-&gt;1</tspan></text></g>
<g id="ca_rr"><ellipse class="w" cx="344" cy="722" rx="25" ry="5.5"/><text class="t" x="344" y="723.8">roundrobin(528,528)</text></g>
</g>
</g>
</g>
</g>
<g id="AhrdAhA"><rect class="c" x="122" y="761" width="236" height="524"/><text class="l" x="125" y="767">AhrdAhA</text>
<g id="ah_rr816"><ellipse class="w" cx="303" cy="778" rx="25" ry="5.5"/><text class="t" x="303" y="779.8">roundrobin(816,528)</text></g>
<g id="ah_id3168"><ellipse class="b" cx="337" cy="843" rx="17" ry="12.5"/><text class="t" x="337" y="838.6">Identity<tspan x="337" dy="6.2">work=3168</tspan><tspan x="337" dy="6.2">I/O: 1-&gt;1</tspan></text></g>
<g id="ah_rr96"><ellipse class="w" cx="300" cy="1275" rx="22" ry="5.5"/><text class="t" x="300" y="1276.8">roundrobin(96,528)</text></g>
<g id="AhrL"><rect class="c" x="127" y="787" width="200" height="475"/><text class="l" x="130" y="793">AhrL</text>
<g id="AhrL1"><rect class="c" x="133" y="795" width="185" height="277"/><text class="l" x="136" y="801">AhrL1</text>
<g id="a1_rr288"><ellipse class="w" cx="268" cy="810" rx="25" ry="5.5"/><text class="t" x="268" y="811.8">roundrobin(288,528)</text></g>
<g id="a1_rr64"><ellipse class="w" cx="213" cy="1063" rx="25" ry="5.5"/><text class="t" x="213" y="1064.8">roundrobin(64,1056)</text></g>
<g id="multvectdoub"><rect class="c" x="139" y="820" width="89" height="230"/><text class="l" x="141" y="826">multvectdoub</text>
<g id="sourcerSplit"><rect class="c" x="145" y="828" width="77" height="93"/><text class="l" x="147" y="834">sourcerSplit</text>
<g id="ss_rr0"><ellipse class="w" cx="198" cy="843" rx="22" ry="5.5"/><text class="t" x="198" y="844.8">roundrobin(0,288)</text></g>
<g id="ss_src"><ellipse class="b" cx="164" cy="878" rx="16" ry="12.5"/><text class="t" x="164" y="873.6">Sourcer<tspan x="164" dy="6.2">work=63</tspan><tspan x="164" dy="6.2">I/O: 0-&gt;9</tspan></text></g>
<g id="ss_id"><ellipse class="b" cx="201" cy="878" rx="17" ry="12.5"/><text class="t" x="201" y="873.6">Identity<tspan x="201" dy="6.2">work=1728</tspan><tspan x="201" dy="6.2">I/O: 1-&gt;1</tspan></text></g>
<g id="ss_rr9"><ellipse class="w" cx="184" cy="911" rx="22" ry="5.5"/><text class="t" x="184" y="912.8">roundrobin(9,288)</text></g>
</g>
<g id="mv"><ellipse class="b" cx="183" cy="942" rx="19" ry="12"/><text class="t" x="183" y="937.6">multvect<tspan x="183" dy="6.2">work=1991</tspan><tspan x="183" dy="6.2">I/O: 297-&gt;32</tspan></text></g>
<g id="vd1"><rect class="c" x="147" y="960" width="75" height="87"/><text class="l" x="149" y="966">vectdouble</text>
<g id="vd1_dup"><ellipse class="w" cx="183" cy="974" rx="17" ry="5.5"/><text class="t" x="183" y="975.8">duplicate(1,1)</text></g>
<g id="vd1_ida"><ellipse class="b" cx="164" cy="1005" rx="16" ry="12.5"/><text class="t" x="164" y="1000.6">Identity<tspan x="164" dy="6.2">work=192</tspan><tspan x="164" dy="6.2">I/O: 1-&gt;1</tspan></text></g>
<g id="vd1_idb"><ellipse class="b" cx="203" cy="1005" rx="16" ry="12.5"/><text class="t" x="203" y="1000.6">Identity<tspan x="203" dy="6.2">work=192</tspan><tspan x="203" dy="6.2">I/O: 1-&gt;1</tspan></text></g>
<g id="vd1_rr"><ellipse class="w" cx="197" cy="1038" rx="21" ry="5.5"/><text class="t" x="197" y="1039.8">roundrobin(32,32)</text></g>
</g>
</g>
<g id="vd2"><rect class="c" x="229" y="828" width="83" height="93"/><text class="l" x="231" y="834">vectdouble</text>
<g id="vd2_dup"><ellipse class="w" cx="268" cy="842" rx="17" ry="5.5"/><text class="t" x="268" y="843.8">duplicate(1,1)</text></g>
<g id="vd2_ida"><ellipse class="b" cx="247" cy="878" rx="17" ry="12.5"/><text class="t" x="247" y="873.6">Identity<tspan x="247" dy="6.2">work=3168</tspan><tspan x="247" dy="6.2">I/O: 1-&gt;1</tspan></text></g>
<g id="vd2_idb"><ellipse class="b" cx="291" cy="878" rx="17" ry="12.5"/><text class="t" x="291" y="873.6">Identity<tspan x="291" dy="6.2">work=3168</tspan><tspan x="291" dy="6.2">I/O: 1-&gt;1</tspan></text></g>
<g id="vd2_rr"><ellipse class="w" cx="257" cy="911" rx="25" ry="5.5"/><text class="t" x="257" y="912.8">roundrobin(528,528)</text></g>
</g>
</g>
<g id="split_ahrd"><rect class="c" x="134" y="1076" width="186" height="183"/><text class="l" x="136" y="1082">split_ahrd</text>
<g id="sa_rr32"><ellipse class="w" cx="213" cy="1090" rx="25" ry="5.5"/><text class="t" x="213" y="1091.8">roundrobin(32,1088)</text></g>
<g id="sa_rr64"><ellipse class="w" cx="267" cy="1248" rx="22" ry="5.5"/><text class="t" x="267" y="1249.8">roundrobin(64,32)</text></g>
<g id="vd3"><rect class="c" x="140" y="1108" width="77" height="89"/><text class="l" x="142" y="1114">vectdouble</text>
<g id="vd3_dup"><ellipse class="w" cx="197" cy="1123" rx="17" ry="5.5"/><text class="t" x="197" y="1124.8">duplicate(1,1)</text></g>
<g id="vd3_ida"><ellipse class="b" cx="158" cy="1155" rx="16" ry="12.5"/><text class="t" x="158" y="1150.6">Identity<tspan x="158" dy="6.2">work=192</tspan><tspan x="158" dy="6.2">I/O: 1-&gt;1</tspan></text></g>
<g id="vd3_idb"><ellipse class="b" cx="197" cy="1155" rx="16" ry="12.5"/><text class="t" x="197" y="1150.6">Identity<tspan x="197" dy="6.2">work=192</tspan><tspan x="197" dy="6.2">I/O: 1-&gt;1</tspan></text></g>
<g id="vd3_rr"><ellipse class="w" cx="193" cy="1187" rx="21" ry="5.5"/><text class="t" x="193" y="1188.8">roundrobin(32,32)</text></g>
</g>
<g id="dsolve"><rect class="c" x="218" y="1100" width="96" height="133"/><text class="l" x="220" y="1106">dsolve</text>
<g id="LrL1"><rect class="c" x="223" y="1108" width="86" height="89"/><text class="l" x="225" y="1114">LrL</text>
<g id="l1_rr"><ellipse class="w" cx="252" cy="1123" rx="24" ry="5.5"/><text class="t" x="252" y="1124.8">roundrobin(560,528)</text></g>
<g id="l1_forw"><ellipse class="b" cx="243" cy="1155" rx="19" ry="12.5"/><text class="t" x="243" y="1150.6">forw<tspan x="243" dy="6.2">work=3168</tspan><tspan x="243" dy="6.2">I/O: 560-&gt;32</tspan></text></g>
<g id="l1_id"><ellipse class="b" cx="288" cy="1155" rx="18" ry="12.5"/><text class="t" x="288" y="1150.6">Identity<tspan x="288" dy="6.2">work=3168</tspan><tspan x="288" dy="6.2">I/O: 1-&gt;1</tspan></text></g>
<g id="l1_rrj"><ellipse class="w" cx="267" cy="1187" rx="24" ry="5.5"/><text class="t" x="267" y="1188.8">roundrobin(32,528)</text></g>
</g>
<g id="ds_backs"><ellipse class="b" cx="267" cy="1218" rx="19" ry="12.5"/><text class="t" x="267" y="1213.6">backs<tspan x="267" dy="6.2">work=3200</tspan><tspan x="267" dy="6.2">I/O: 560-&gt;32</tspan></text></g>
</g>
</g>
</g>
</g>
<g id="AhrChold"><rect class="c" x="254" y="1287" width="136" height="272"/><text class="l" x="257" y="1293">AhrChold</text>
<g id="ac_rr32"><ellipse class="w" cx="302" cy="1303" rx="22" ry="5.5"/><text class="t" x="302" y="1304.8">roundrobin(32,592)</text></g>
<g id="ac_id192"><ellipse class="b" cx="272" cy="1367" rx="16" ry="12.5"/><text class="t" x="272" y="1362.6">Identity<tspan x="272" dy="6.2">work=192</tspan><tspan x="272" dy="6.2">I/O: 1-&gt;1</tspan></text></g>
<g id="ac_rrj"><ellipse class="w" cx="302" cy="1548" rx="24" ry="5.5"/><text class="t" x="302" y="1549.8">roundrobin(32,1056)</text></g>
<g id="Lest"><rect class="c" x="289" y="1312" width="94" height="226"/><text class="l" x="291" y="1318">Lest</text>
<g id="error_split"><rect class="c" x="294" y="1321" width="81" height="87"/><text class="l" x="296" y="1327">error_split</text>
<g id="es_rr"><ellipse class="w" cx="322" cy="1335" rx="24" ry="5.5"/><text class="t" x="322" y="1336.8">roundrobin(64,528)</text></g>
<g id="es_est"><ellipse class="b" cx="311" cy="1368" rx="16" ry="12.5"/><text class="t" x="311" y="1363.6">error_est<tspan x="311" dy="6.2">work=643</tspan><tspan x="311" dy="6.2">I/O: 64-&gt;1</tspan></text></g>
<g id="es_id"><ellipse class="b" cx="355" cy="1368" rx="17" ry="12.5"/><text class="t" x="355" y="1363.6">Identity<tspan x="355" dy="6.2">work=3168</tspan><tspan x="355" dy="6.2">I/O: 1-&gt;1</tspan></text></g>
<g id="es_rrj"><ellipse class="w" cx="335" cy="1398" rx="21" ry="5.5"/><text class="t" x="335" y="1399.8">roundrobin(1,528)</text></g>
</g>
<g id="choldsigma"><ellipse class="r" cx="336" cy="1432" rx="21" ry="12.5"/><text class="t" x="336" y="1427.6">choldsigma<tspan x="336" dy="6.2">work=66771</tspan><tspan x="336" dy="6.2">I/O: 529-&gt;528</tspan></text></g>
<g id="vd4"><rect class="c" x="294" y="1447" width="84" height="86"/><text class="l" x="296" y="1453">vectdouble</text>
<g id="vd4_dup"><ellipse class="w" cx="331" cy="1462" rx="17" ry="5.5"/><text class="t" x="331" y="1463.8">duplicate(1,1)</text></g>
<g id="vd4_ida"><ellipse class="b" cx="312" cy="1492" rx="17" ry="12.5"/><text class="t" x="312" y="1487.6">Identity<tspan x="312" dy="6.2">work=3168</tspan><tspan x="312" dy="6.2">I/O: 1-&gt;1</tspan></text></g>
<g id="vd4_idb"><ellipse class="b" cx="353" cy="1492" rx="17" ry="12.5"/><text class="t" x="353" y="1487.6">Identity<tspan x="353" dy="6.2">work=3168</tspan><tspan x="353" dy="6.2">I/O: 1-&gt;1</tspan></text></g>
<g id="vd4_rr"><ellipse class="w" cx="322" cy="1523" rx="25" ry="5.5"/><text class="t" x="322" y="1524.8">roundrobin(528,528)</text></g>
</g>
</g>
</g>
<g id="LrL2"><rect class="c" x="257" y="1563" width="90" height="87"/><text class="l" x="259" y="1569">LrL</text>
<g id="l2_rr"><ellipse class="w" cx="302" cy="1578" rx="24" ry="5.5"/><text class="t" x="302" y="1579.8">roundrobin(560,528)</text></g>
<g id="l2_forw"><ellipse class="b" cx="277" cy="1608" rx="19" ry="12.5"/><text class="t" x="277" y="1603.6">forw<tspan x="277" dy="6.2">work=3168</tspan><tspan x="277" dy="6.2">I/O: 560-&gt;32</tspan></text></g>
<g id="l2_id"><ellipse class="b" cx="325" cy="1608" rx="18" ry="12.5"/><text class="t" x="325" y="1603.6">Identity<tspan x="325" dy="6.2">work=3168</tspan><tspan x="325" dy="6.2">I/O: 1-&gt;1</tspan></text></g>
<g id="l2_rrj"><ellipse class="w" cx="302" cy="1641" rx="24" ry="5.5"/><text class="t" x="302" y="1642.8">roundrobin(32,528)</text></g>
</g>
<g id="backs"><ellipse class="b" cx="302" cy="1672" rx="19" ry="12.5"/><text class="t" x="302" y="1667.6">backs<tspan x="302" dy="6.2">work=3200</tspan><tspan x="302" dy="6.2">I/O: 560-&gt;32</tspan></text></g>
<g id="sinkd"><ellipse class="b" cx="302" cy="1707" rx="17" ry="12.5"/><text class="t" x="302" y="1702.6">SinkD<tspan x="302" dy="6.2">work=256</tspan><tspan x="302" dy="6.2">I/O: 32-&gt;0</tspan></text></g>
</g>
<g id="E">
<path d="M637,48.5L637,64.5"/>
<path d="M607,71.5C480,74 392,76 370,99"/>
<path d="M610,73C540,76 474,78 453.3,99"/>
<path d="M616,74.2C580,78 556,80 536.6,99"/>
<path d="M628,75L615,98.7"/>
<path d="M646,75L664,98.8"/>
<path d="M658,74.2C690,78 718,80 745.5,99"/>
<path d="M664,73C735,76 800,78 829,99"/>
<path d="M667,71.5C790,74 885,76 912.3,99"/>
<g transform="translate(305,0)"><path d="M53,109.2L35.8,125.5"/><path d="M58.5,109.5L60.5,122.5"/><path d="M32.2,146.4L40.3,160.6"/><path d="M54.5,146.3L45.9,160.6"/><path d="M43,171.5L43,185"/><path d="M43,217L43,232.5"/><path d="M39.6,243.3L29.6,257.2"/><path d="M46.1,243.3L55,256.9"/><path d="M31.9,277.4L52.9,296.8"/><path d="M61.5,280.5L58,296.5"/></g>
<g transform="translate(388.3,0)"><path d="M53,109.2L35.8,125.5"/><path d="M58.5,109.5L60.5,122.5"/><path d="M32.2,146.4L40.3,160.6"/><path d="M54.5,146.3L45.9,160.6"/><path d="M43,171.5L43,185"/><path d="M43,217L43,232.5"/><path d="M39.6,243.3L29.6,257.2"/><path d="M46.1,243.3L55,256.9"/><path d="M31.9,277.4L52.9,296.8"/><path d="M61.5,280.5L58,296.5"/></g>
<g transform="translate(471.6,0)"><path d="M53,109.2L35.8,125.5"/><path d="M58.5,109.5L60.5,122.5"/><path d="M32.2,146.4L40.3,160.6"/><path d="M54.5,146.3L45.9,160.6"/><path d="M43,171.5L43,185"/><path d="M43,217L43,232.5"/><path d="M39.6,243.3L29.6,257.2"/><path d="M46.1,243.3L55,256.9"/><path d="M31.9,277.4L52.9,296.8"/><path d="M61.5,280.5L58,296.5"/></g>
<g transform="translate(555,0)"><path d="M53,109.2L35.8,125.5"/><path d="M58.5,109.5L60.5,122.5"/><path d="M32.2,146.4L40.3,160.6"/><path d="M54.5,146.3L45.9,160.6"/><path d="M43,171.5L43,185"/><path d="M43,217L43,232.5"/><path d="M39.6,243.3L29.6,257.2"/><path d="M46.1,243.3L55,256.9"/><path d="M31.9,277.4L52.9,296.8"/><path d="M61.5,280.5L58,296.5"/></g>
<g transform="translate(638.2,0)"><path d="M30,109.5L27,122.5"/><path d="M35.7,109.3L51.6,125.3"/><path d="M32.2,146.4L40.3,160.6"/><path d="M54.5,146.3L45.9,160.6"/><path d="M43,171.5L43,185"/><path d="M43,217L43,232.5"/><path d="M39.6,243.3L29.6,257.2"/><path d="M46.1,243.3L55,256.9"/><path d="M23.8,280.4L26.3,296.5"/><path d="M52.2,277.5L32,296.8"/></g>
<g transform="translate(721.5,0)"><path d="M30,109.5L27,122.5"/><path d="M35.7,109.3L51.6,125.3"/><path d="M32.2,146.4L40.3,160.6"/><path d="M54.5,146.3L45.9,160.6"/><path d="M43,171.5L43,185"/><path d="M43,217L43,232.5"/><path d="M39.6,243.3L29.6,257.2"/><path d="M46.1,243.3L55,256.9"/><path d="M23.8,280.4L26.3,296.5"/><path d="M52.2,277.5L32,296.8"/></g>
<g transform="translate(805,0)"><path d="M30,109.5L27,122.5"/><path d="M35.7,109.3L51.6,125.3"/><path d="M32.2,146.4L40.3,160.6"/><path d="M54.5,146.3L45.9,160.6"/><path d="M43,171.5L43,185"/><path d="M43,217L43,232.5"/><path d="M39.6,243.3L29.6,257.2"/><path d="M46.1,243.3L55,256.9"/><path d="M23.8,280.4L26.3,296.5"/><path d="M52.2,277.5L32,296.8"/></g>
<g transform="translate(888.3,0)"><path d="M30,109.5L27,122.5"/><path d="M35.7,109.3L51.6,125.3"/><path d="M32.2,146.4L40.3,160.6"/><path d="M54.5,146.3L45.9,160.6"/><path d="M43,171.5L43,185"/><path d="M43,217L43,232.5"/><path d="M39.6,243.3L29.6,257.2"/><path d="M46.1,243.3L55,256.9"/><path d="M23.8,280.4L26.3,296.5"/><path d="M52.2,277.5L32,296.8"/></g>
<path d="M370,307C392,316 500,322 604,325.5"/>
<path d="M453.3,307C475,316 550,321 606,323.5"/>
<path d="M536.6,307C558,315 590,320 612,322"/>
<path d="M615,307.5L627,321.2"/>
<path d="M660,307.5L648,321.2"/>
<path d="M741.5,307C720,315 690,320 662,322"/>
<path d="M825,307C805,316 730,321 668,323.5"/>
<path d="M908.3,307C885,316 780,322 670,325.5"/>
<path d="M637,331.5L637,348.5"/>
<path d="M605,356C420,358 200,362 138,376.5"/>
<path d="M607,357.5C480,360 330,363 289.7,376.5"/>
<path d="M612,359C540,362 470,365 441.4,376.5"/>
<path d="M624,359.2C612,365 600,371 590,376.2"/>
<path d="M650,359.2C662,365 676,371 687,376.2"/>
<path d="M662,359C734,362 804,365 835.5,376.5"/>
<path d="M667,357.5C794,360 944,363 987.2,376.5"/>
<path d="M669,356C854,358 1074,362 1138.9,376.5"/>
<g transform="translate(33,0)"><path d="M82.1,385.8L32.3,405.3"/><path d="M86.9,386.2L66.5,401.9"/><path d="M93,386.5L93,398"/><path d="M98.9,386.2L118.7,401.8"/><path d="M32.2,417L82.6,438.2"/><path d="M66.1,420.3L87.3,437.8"/><path d="M93,424L93,437.5"/><path d="M119.2,420.3L98.6,437.8"/></g>
<g transform="translate(184.7,0)"><path d="M82.1,385.8L32.3,405.3"/><path d="M86.9,386.2L66.5,401.9"/><path d="M93,386.5L93,398"/><path d="M98.9,386.2L118.7,401.8"/><path d="M32.2,417L82.6,438.2"/><path d="M66.1,420.3L87.3,437.8"/><path d="M93,424L93,437.5"/><path d="M119.2,420.3L98.6,437.8"/></g>
<g transform="translate(336.4,0)"><path d="M82.1,385.8L32.3,405.3"/><path d="M86.9,386.2L66.5,401.9"/><path d="M93,386.5L93,398"/><path d="M98.9,386.2L118.7,401.8"/><path d="M32.2,417L82.6,438.2"/><path d="M66.1,420.3L87.3,437.8"/><path d="M93,424L93,437.5"/><path d="M119.2,420.3L98.6,437.8"/></g>
<g transform="translate(488.1,0)"><path d="M82.1,385.8L32.3,405.3"/><path d="M86.9,386.2L66.5,401.9"/><path d="M93,386.5L93,398"/><path d="M98.9,386.2L118.7,401.8"/><path d="M32.2,417L82.6,438.2"/><path d="M66.1,420.3L87.3,437.8"/><path d="M93,424L93,437.5"/><path d="M119.2,420.3L98.6,437.8"/></g>
<g transform="translate(639.8,0)"><path d="M49.9,386.2L29.5,401.9"/><path d="M55.8,386.5L55.2,398"/><path d="M61.9,386.2L81.7,401.8"/><path d="M66.7,385.8L115.7,405.2"/><path d="M29.3,420.2L51.1,437.8"/><path d="M55.2,424L56.8,437.5"/><path d="M82.2,420.6L62.5,437.7"/><path d="M115.9,417.2L66.8,437.2"/></g>
<g transform="translate(791.5,0)"><path d="M49.9,386.2L29.5,401.9"/><path d="M55.8,386.5L55.2,398"/><path d="M61.9,386.2L81.7,401.8"/><path d="M66.7,385.8L115.7,405.2"/><path d="M29.3,420.2L51.1,437.8"/><path d="M55.2,424L56.8,437.5"/><path d="M82.2,420.6L62.5,437.7"/><path d="M115.9,417.2L66.8,437.2"/></g>
<g transform="translate(943.2,0)"><path d="M49.9,386.2L29.5,401.9"/><path d="M55.8,386.5L55.2,398"/><path d="M61.9,386.2L81.7,401.8"/><path d="M66.7,385.8L115.7,405.2"/><path d="M29.3,420.2L51.1,437.8"/><path d="M55.2,424L56.8,437.5"/><path d="M82.2,420.6L62.5,437.7"/><path d="M115.9,417.2L66.8,437.2"/></g>
<g transform="translate(1094.9,0)"><path d="M49.9,386.2L29.5,401.9"/><path d="M55.8,386.5L55.2,398"/><path d="M61.9,386.2L81.7,401.8"/><path d="M66.7,385.8L115.7,405.2"/><path d="M29.3,420.2L51.1,437.8"/><path d="M55.2,424L56.8,437.5"/><path d="M82.2,420.6L62.5,437.7"/><path d="M115.9,417.2L66.8,437.2"/></g>
<path d="M138,447.6C180,457 400,463 573,468"/>
<path d="M289.7,447.6C330,457 480,462 575,465.8"/>
<path d="M441.4,447.6C480,456 550,461 581,464.6"/>
<path d="M590,447.8L600,464"/>
<path d="M684.8,447.6C668,456 650,461 627,464.6"/>
<path d="M836.5,447.6C800,457 700,462 636,466.2"/>
<path d="M988.2,447.6C950,457 780,463 638,467.8"/>
<path d="M1139.9,447.6C1100,457 850,463 639.5,469.8"/>
<path d="M607,474.5L610,491.3"/>
<path d="M596,498.5C200,501 70,500 58,510C50,518 44,535 42,551.6"/>
<path d="M615.5,502.2L627,527.6"/>
<path d="M580.3,537C330,541 88,544 83,551.6"/>
<path d="M584,537C350.7,541 125.3,544 120.3,551.6"/>
<path d="M587.7,537C371.1,541 162.5,544 157.5,551.6"/>
<path d="M591.4,537C391.6,541 199.8,544 194.8,551.6"/>
<path d="M595.2,537.5C412.1,541 237,544 232,551.6"/>
<path d="M598.9,537.5C432.6,541 274.3,544 269.3,551.6"/>
<path d="M602.6,537.5C453.1,541 311.6,544 306.6,551.6"/>
<path d="M606.3,537.5C473.6,541 348.8,544 343.8,551.6"/>
<path d="M610.1,538C494.1,541 386.1,544 381.1,551.6"/>
<path d="M613.8,538C514.6,541 423.3,544 418.3,551.6"/>
<path d="M617.5,538C535,541 460.6,544 455.6,551.6"/>
<path d="M621.2,538C555.6,541 497.9,544 492.9,551.6"/>
<path d="M625,538.4C576,541 535.1,544 530.1,551.6"/>
<path d="M628.7,538.4C596.6,541 572.4,544 567.4,551.6"/>
<path d="M632.4,538.5C617,541 605,546 603.5,551.6"/>
<path d="M636.1,538.5L638.5,551.5"/>
<path d="M639.9,538.5C658,541 672,546 674.3,551.6"/>
<path d="M643.6,538.4C678.5,541 705.4,544 710.4,551.6"/>
<path d="M647.3,538.4C699,541 742.7,544 747.7,551.6"/>
<path d="M651,538.2C719.5,541 779.9,544 784.9,551.6"/>
<path d="M654.8,538C740,541 817.2,544 822.2,551.6"/>
<path d="M658.5,538C760.5,541 854.5,544 859.5,551.6"/>
<path d="M662.2,538C781,541 891.7,544 896.7,551.6"/>
<path d="M665.9,538C801.5,541 929,544 934,551.6"/>
<path d="M669.7,537.5C822,541 966.2,544 971.2,551.6"/>
<path d="M673.4,537.5C842.5,541 1003.5,544 1008.5,551.6"/>
<path d="M677.1,537.5C863,541 1040.8,544 1045.8,551.6"/>
<path d="M680.9,537.5C883.5,541 1078,544 1083,551.6"/>
<path d="M684.6,537C904,541 1115.3,544 1120.3,551.6"/>
<path d="M688.3,537C924.4,541 1152.5,544 1157.5,551.6"/>
<path d="M692,537C944.9,541 1189.8,544 1194.8,551.6"/>
<path d="M695.8,537C965.5,541 1227.1,544 1232.1,551.6"/>
<path d="M80,576.5C80,583 330.2,589 580.3,590.2"/>
<path d="M117.3,576.5C117.3,583 350.7,589 584,590.2"/>
<path d="M154.5,576.5C154.5,583 371.1,589 587.7,590"/>
<path d="M191.8,576.5C191.8,583 391.6,589 591.4,589.9"/>
<path d="M229,576.5C229,583 412.1,589 595.2,589.6"/>
<path d="M266.3,576.5C266.3,583 432.6,589 598.9,589.4"/>
<path d="M303.6,576.5C303.6,583 453.1,589 602.6,589.2"/>
<path d="M340.8,576.5C340.8,583 473.6,589 606.3,589.1"/>
<path d="M378.1,576.5C378.1,583 494.1,588 610.1,588.9"/>
<path d="M415.3,576.5C415.3,583 514.6,588 613.8,588.8"/>
<path d="M452.6,576.5C452.6,583 535.1,588 617.5,588.7"/>
<path d="M489.9,576.5C489.9,583 555.6,588 621.2,588.6"/>
<path d="M527.1,576.5C527.1,583 576.1,588 625,588.6"/>
<path d="M564.4,576.5C564.4,583 596.6,588 628.7,588.5"/>
<path d="M601.6,576.5C601.6,582 617,587 632.4,588.5"/>
<path d="M638.9,576.5L636.4,588.5"/>
<path d="M676.2,576.5C676.2,582 658.1,587 639.9,588.5"/>
<path d="M713.4,576.5C713.4,583 678.5,588 643.6,588.5"/>
<path d="M750.7,576.5C750.7,583 699,588 647.3,588.6"/>
<path d="M787.9,576.5C787.9,583 719.5,588 651,588.6"/>
<path d="M825.2,576.5C825.2,583 740,588 654.8,588.7"/>
<path d="M862.5,576.5C862.5,583 760.5,588 658.5,588.8"/>
<path d="M899.7,576.5C899.7,583 781,588 662.2,588.9"/>
<path d="M937,576.5C937,583 801.5,588 665.9,589"/>
<path d="M974.2,576.5C974.2,583 822,589 669.7,589.2"/>
<path d="M1011.5,576.5C1011.5,583 842.5,589 673.4,589.4"/>
<path d="M1048.8,576.5C1048.8,583 863,589 677.1,589.6"/>
<path d="M1086,576.5C1086,583 883.5,589 680.9,589.8"/>
<path d="M1123.3,576.5C1123.3,583 904,589 684.6,589.9"/>
<path d="M1160.5,576.5C1160.5,583 924.4,589 688.3,590"/>
<path d="M1197.8,576.5C1197.8,583 944.9,589 692,590.2"/>
<path d="M1235.1,576.5C1235.1,583 965.5,589 695.8,590.3"/>
<path d="M634,599.5L622.5,616.3"/>
<path d="M602,637C520,645 450,652 400.5,657.8"/>
<path d="M375.8,663L352.3,680.7"/>
<path d="M382.2,663.5L383.8,678"/>
<path d="M340.8,702L343.5,716.5"/>
<path d="M372.5,699.2L350.1,716.7"/>
<path d="M335,727L312.5,742.3"/>
<path d="M40.5,576.5C42,640 40,700 52,720C70,742 200,746 277,747"/>
<path d="M303,752.5L303,772.5"/>
<path d="M297.7,783.2L273.3,804.8"/>
<path d="M318,782.5C328,800 333,815 335,830.5"/>
<path d="M248,814C225,820 210,828 205,837.8"/>
<path d="M268,815.5L268,836.5"/>
<path d="M193.3,848.2L173.9,867.8"/>
<path d="M198.2,848.5L200.8,865.5"/>
<path d="M171.1,889.7L181,905.6"/>
<path d="M194.8,890.1L186.6,905.6"/>
<path d="M183.9,916.5L183.2,930"/>
<path d="M183,954L183,968.5"/>
<path d="M180,979.3L171.1,993.4"/>
<path d="M186.2,979.3L195.6,993.5"/>
<path d="M174.1,1015.1L192.1,1032.7"/>
<path d="M200.7,1017.9L196.4,1032.5"/>
<path d="M200.2,1043.3L209.8,1057.6"/>
<path d="M265.1,847.3L253.9,866.1"/>
<path d="M271,847.3L283.8,866.2"/>
<path d="M250.8,890.7L255.5,905.5"/>
<path d="M280.7,888.3L262,905.7"/>
<path d="M250,916C240,930 240,945 240,990C240,1035 236,1048 226,1058.2"/>
<path d="M336,855.5C332,900 329,1000 329,1100C329,1200 330,1255 316,1271.2"/>
<path d="M213,1068.5L213,1084.5"/>
<path d="M210.6,1095.3L199.6,1117.6"/>
<path d="M220,1095L245,1118.2"/>
<path d="M191.3,1128L169.3,1145.8"/>
<path d="M197,1128.5L197,1142.5"/>
<path d="M168.6,1164.7L187.7,1181.8"/>
<path d="M196.6,1167.5L193.4,1181.5"/>
<path d="M193,1192.5C197,1225 215,1240 246,1246"/>
<path d="M250.7,1128.5L244.2,1142.5"/>
<path d="M257.5,1128.3L276.7,1144.9"/>
<path d="M251.7,1166.6L263.3,1181.7"/>
<path d="M280.3,1166.7L270.3,1181.6"/>
<path d="M267,1192.5L267,1205.5"/>
<path d="M267,1230.5L267,1242.5"/>
<path d="M272.9,1253.2L294.1,1269.8"/>
<path d="M300.2,1280.5L301.8,1297.5"/>
<path d="M299.7,1308.5L277.5,1355.3"/>
<path d="M305.1,1308.4L318.9,1329.6"/>
<path d="M320.4,1340.5L313,1355.5"/>
<path d="M326.9,1340.2L344.7,1357.7"/>
<path d="M319.7,1378.9L331.1,1392.7"/>
<path d="M347.3,1379.6L338.3,1392.6"/>
<path d="M335,1403.5L336,1419.5"/>
<path d="M335.5,1444.5L331.5,1456.5"/>
<path d="M327.9,1467.3L319.4,1480.3"/>
<path d="M334.6,1467.3L344.7,1480.7"/>
<path d="M314.7,1504L320.5,1517.5"/>
<path d="M342.7,1502.3L326.9,1517.7"/>
<path d="M318,1528.3L305.9,1542.7"/>
<path d="M272.5,1379.5C274,1440 275,1510 294,1543"/>
<path d="M302,1553.5L302,1572.5"/>
<path d="M297.6,1583.3L286.5,1597"/>
<path d="M305.8,1583.3L316.3,1596.6"/>
<path d="M285.5,1619L298,1635.7"/>
<path d="M316.9,1619.6L305.5,1635.6"/>
<path d="M302,1646.5L302,1659.5"/>
<path d="M302,1684.5L302,1694.5"/>
</g>
</svg>
